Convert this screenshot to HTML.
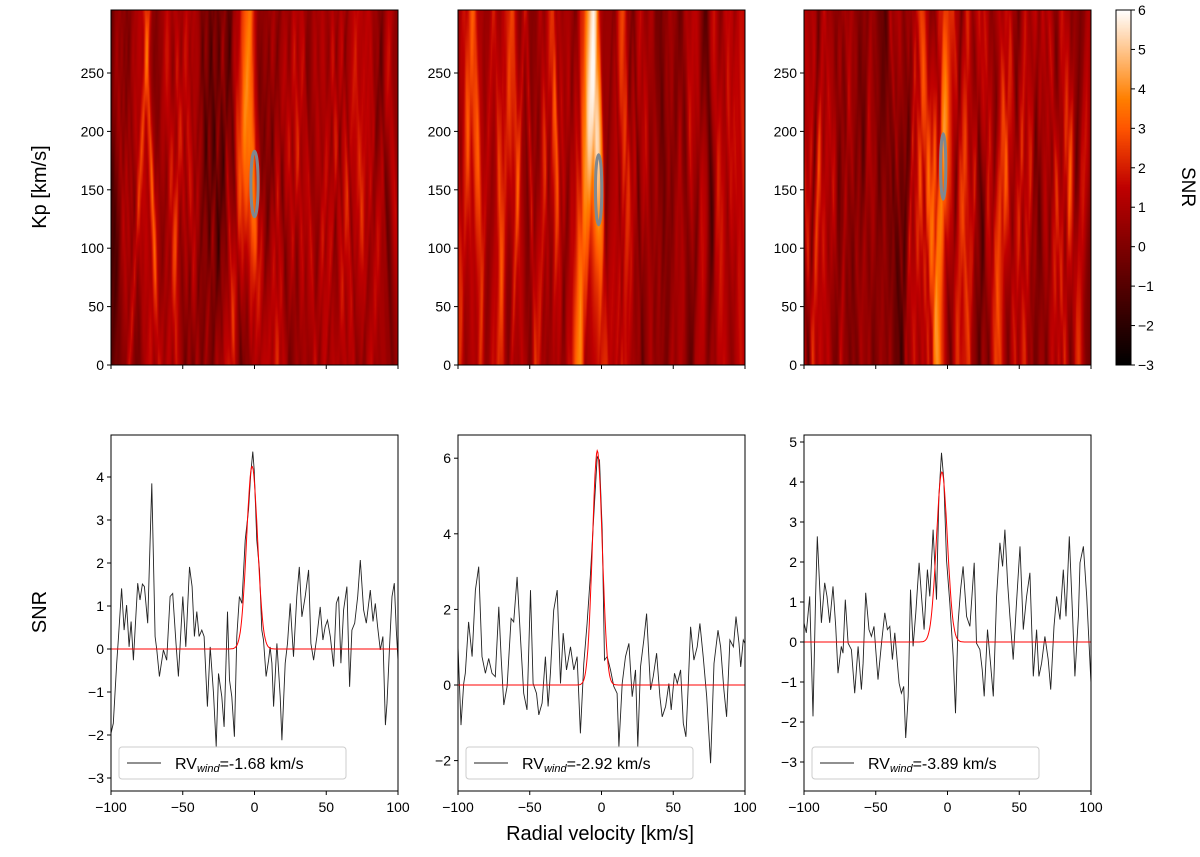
<!DOCTYPE html>
<html><head><meta charset="utf-8">
<style>
body{margin:0;background:#fff;width:1200px;height:857px;overflow:hidden;font-family:"Liberation Sans",sans-serif}
#root{position:relative;width:1200px;height:857px}
canvas{position:absolute}
svg{position:absolute;left:0;top:0}
</style></head>
<body>
<div id="root">
<canvas id="h0" width="287" height="355" style="left:111px;top:10px"></canvas>
<canvas id="h1" width="287" height="355" style="left:458px;top:10px"></canvas>
<canvas id="h2" width="287" height="355" style="left:804px;top:10px"></canvas>
<canvas id="cb" width="15" height="355" style="left:1116px;top:10px"></canvas>
<svg id="s" width="1200" height="857"></svg>
</div>
<script>
const rv1=[-100,-98.4,-96.0,-94.9,-92.6,-90.9,-89.1,-87.4,-86.0,-84.4,-81.4,-79.8,-78.1,-76.7,-74.4,-71.6,-69.3,-68.1,-66.3,-63.5,-61.2,-58.8,-57.0,-54.7,-53.0,-50.0,-47.9,-45.3,-43.5,-41.9,-40.2,-38.6,-36.7,-35.1,-32.8,-30.9,-28.6,-26.7,-25.1,-22.8,-21.2,-18.8,-17.4,-15.8,-14.0,-12.3,-10.5,-8.8,-6.5,-4.2,-2.6,-1.2,-0.2,1.6,3.5,5.1,6.3,8.1,9.8,10.9,12.1,13.3,15.6,17.9,19.1,21.4,23.0,24.9,27.2,29.5,31.2,33.0,35.3,37.7,39.3,41.2,43.5,45.8,47.7,49.3,50.9,52.8,55.1,57.0,58.6,60.2,62.1,64.4,66.3,67.9,69.8,71.9,73.7,76.0,77.9,80.7,82.6,84.2,85.8,87.7,89.5,91.2,92.3,94.2,95.8,97.4,98.8,100];
const snr1=[-1.96,-1.73,-0.33,0.21,1.41,0.44,1.02,0.05,0.64,-0.26,1.53,1.14,1.51,1.45,0.60,3.85,0.29,-0.02,-0.64,-0.02,-0.26,1.22,1.29,0.13,-0.64,1.22,0.05,1.91,1.45,0.29,0.87,0.29,0.44,0.29,-1.34,0.05,-1.03,-2.27,-0.57,-1.11,-1.81,0.87,-0.72,-1.11,-2.04,0.29,1.22,1.06,2.53,3.23,4.09,4.59,4.16,2.53,1.84,0.44,0.21,-0.64,-0.26,0.05,-0.33,-1.34,0.13,-1.11,-2.12,-0.33,0.13,1.06,-0.18,1.22,1.91,0.75,1.22,1.84,0.13,-0.26,0.29,0.98,0.21,0.52,0.67,0.29,-0.41,1.06,1.22,-0.33,0.91,1.45,-0.88,0.44,0.60,1.22,2.07,0.91,0.60,1.37,0.64,1.06,0.52,-0.02,0.29,-1.77,-1.26,0.13,1.22,1.53,0.44,-0.26];
const rv2=[-100,-97.9,-96.0,-94.9,-92.6,-90.2,-87.9,-85.6,-83.3,-80.9,-78.6,-76.3,-74.0,-71.6,-70.0,-68.1,-65.8,-63.0,-61.2,-58.8,-56.5,-54.2,-51.9,-49.5,-47.7,-45.3,-43.7,-41.4,-39.1,-37.2,-35.6,-33.3,-30.9,-28.6,-26.7,-24.4,-21.6,-19.3,-17.0,-14.7,-12.3,-10.0,-7.7,-5.3,-3.0,-1.4,0.5,2.1,4.0,6.3,8.6,10.9,12.1,14.4,16.7,19.1,21.4,23.7,25.3,27.2,29.5,31.4,34.2,36.0,38.4,40.7,42.3,44.7,47.0,48.6,50.9,52.8,55.1,57.0,58.8,60.2,62.1,64.4,66.7,68.6,70.9,73.3,76.0,78.4,81.2,83.0,85.3,87.2,89.5,91.9,93.7,95.8,97.0,98.8,100];
const snr2=[1.01,-1.06,0.04,0.31,1.67,0.75,2.51,3.13,0.75,0.31,0.70,0.31,0.22,2.07,0.75,-0.53,-0.04,1.76,1.67,2.86,1.28,-0.22,-0.66,2.51,0.04,-0.22,-0.79,-0.48,0.75,-0.57,0.31,1.98,2.51,0.04,1.37,0.40,1.01,0.40,0.75,-1.28,0.57,1.63,2.95,4.54,6.04,5.95,4.10,0.66,0.75,0.40,-0.04,-0.22,-1.63,0.04,0.75,1.10,-0.31,0.40,-1.63,0.48,1.19,1.89,-0.13,0.22,0.84,-0.31,-0.84,-0.57,0.04,-0.66,0.31,0.04,0.40,-1.01,-1.37,-0.22,1.54,0.66,1.01,1.63,0.75,-0.31,-2.07,0.57,1.45,1.01,-0.13,-0.84,1.19,1.01,1.81,1.10,0.48,1.19,1.10];
const rv3=[-100,-98.4,-96.0,-93.7,-91.9,-90.7,-87.9,-85.6,-84.0,-82.1,-79.8,-77.9,-76.3,-74.0,-72.8,-71.2,-69.3,-67.0,-64.7,-62.3,-60.0,-58.8,-57.0,-54.7,-53.0,-51.2,-48.4,-46.0,-43.7,-41.9,-40.2,-38.4,-36.7,-33.7,-32.1,-30.5,-29.1,-27.4,-25.8,-24.0,-22.1,-19.8,-18.1,-16.3,-14.0,-12.3,-10.0,-7.7,-6.0,-4.2,-2.6,-0.7,1.6,4.0,5.6,7.4,9.1,10.9,13.3,15.6,18.6,20.2,22.6,24.2,25.6,27.9,30.0,31.9,34.2,36.5,38.4,40.0,41.9,43.5,45.8,48.1,50.5,52.8,55.1,57.4,59.8,62.1,63.7,65.6,67.9,70.2,71.9,74.2,76.0,78.4,80.7,82.6,84.9,87.2,88.8,91.2,92.3,94.7,97.0,100];
const snr3=[0.48,0.23,1.14,-1.86,1.14,2.64,0.48,1.48,1.14,0.48,1.39,0.39,-0.78,-0.11,-0.28,1.06,-0.03,-0.19,-1.28,-0.11,-1.19,-0.53,1.23,0.31,0.14,0.39,-0.94,-0.03,0.73,0.31,0.39,-0.44,0.23,-1.03,-1.28,-1.11,-2.40,-1.36,1.31,-0.11,0.73,1.98,1.14,0.31,1.81,1.14,2.81,1.06,3.64,4.73,4.06,2.06,0.98,-0.36,-1.78,0.48,1.31,1.89,0.64,0.39,1.98,-0.03,-0.19,-0.69,-1.36,0.31,-0.53,-1.36,1.14,2.48,1.89,2.81,1.48,0.64,-0.44,0.98,2.39,0.31,1.14,1.73,-0.86,0.31,-0.86,-0.53,0.14,-0.44,-1.19,0.39,1.14,0.56,1.81,0.64,2.64,0.64,-0.86,0.64,1.98,2.39,1.14,-1.03];
const fitAmp=[4.25,6.2,4.25];
const fitCenter=[-1.68,-2.92,-3.89];
const fitSigma=[3.8,3.4,3.8];
const legendLabels=["-1.68","-2.92","-3.89"];
const xTicks=[-100,-50,0,50,100];
const kpTicks=[0,50,100,150,200,250];
const cbTicks=[-3,-2,-1,0,1,2,3,4,5,6];
const yTicks1=[-3,-2,-1,0,1,2,3,4];
const yTicks2=[-2,0,2,4,6];
const yTicks3=[-3,-2,-1,0,1,2,3,4,5];

const NS='http://www.w3.org/2000/svg';
const svg=document.getElementById('s');
function el(t,a,p){const e=document.createElementNS(NS,t);for(const k in a)e.setAttribute(k,a[k]);(p||svg).appendChild(e);return e;}
const lefts=[111,458,804], W=287;
const bot=[{y0:649,k:43,ticks:yTicks1},{y0:685,k:37.8,ticks:yTicks2},{y0:642,k:40,ticks:yTicks3}];
const series=[[rv1,snr1],[rv2,snr2],[rv3,snr3]];
function xS(i,v){return lefts[i]+(v+100)/200*W;}
function kpS(v){return 365-v*1.168;}
function interp(xs,ys,x){if(x<=xs[0])return ys[0];if(x>=xs[xs.length-1])return ys[ys.length-1];
 let j=1;while(xs[j]<x)j++;const t=(x-xs[j-1])/(xs[j]-xs[j-1]);return ys[j-1]*(1-t)+ys[j]*t;}
function cmap(v){let x=(v+3)/9;x=Math.max(0,Math.min(1,x));
 return [Math.min(1,1.5*x)*255,Math.max(0,Math.min(1,2*x-1))*255,Math.max(0,Math.min(1,4*x-3))*255];}

const slopes=[0.03,0.02,-0.025];
const kpPeak=[150,190,160];
for(let i=0;i<3;i++){
 const c=document.getElementById('h'+i).getContext('2d');const img=c.createImageData(287,355);
 const [xs,ys]=series[i];
 for(let py=0;py<355;py++){const kp=(355-py)/1.168;
  const wgt=0.45+0.55*Math.exp(-Math.pow((kp-kpPeak[i])/90,2));
  for(let px=0;px<287;px++){const rv=px/W*200-100;
   const a=interp(xs,ys,rv+slopes[i]*(kp-150));
   const b=interp(xs,ys,rv-slopes[i]*1.5*(kp-150)+9);
   const d=interp(xs,ys,rv+0.04*Math.sin(kp/40+i)*30-17);
   const v=0.75*a*wgt+0.45*b+0.25*d+0.35;
   const col=cmap(v);const o=(py*287+px)*4;
   img.data[o]=col[0];img.data[o+1]=col[1];img.data[o+2]=col[2];img.data[o+3]=255;}}
 c.putImageData(img,0,0);
}
{const c=document.getElementById('cb').getContext('2d');
 for(let py=0;py<355;py++){const v=6-py/355*9;const col=cmap(v);c.fillStyle=`rgb(${col[0]|0},${col[1]|0},${col[2]|0})`;c.fillRect(0,py,15,1);}}
el('rect',{x:1116,y:10,width:15,height:355,fill:'none',stroke:'#000','stroke-width':1,});
cbTicks.forEach(v=>{const y=365-(v+3)/9*355;
 el('line',{x1:1131,x2:1135,y1:y,y2:y,stroke:'#000'});
 const t=el('text',{x:1138,y:y+5,'font-size':14});t.textContent=(v<0?'\u2212':'')+Math.abs(v);
 });
{const t=el('text',{x:1182,y:187,'font-size':19,'text-anchor':'middle',transform:'rotate(90 1182 187)'});t.textContent='SNR';
 }

const contours=[[0,155,2.5,28],[-2,150,2.2,30],[-3,170,1.8,28]];
contours.forEach((c,i)=>{const e=el('ellipse',{cx:xS(i,c[0]),cy:kpS(c[1]),rx:c[2]/200*W,ry:c[3]*1.168,fill:'none',stroke:'#808890','stroke-width':3});
 });

for(let i=0;i<3;i++){
 const L=lefts[i];
 el('rect',{x:L,y:10,width:W,height:355,fill:'none',stroke:'#000',});
 kpTicks.forEach(v=>{const y=kpS(v);el('line',{x1:L-4,x2:L,y1:y,y2:y,stroke:'#000'});
  const t=el('text',{x:L-7,y:y+5,'font-size':14,'text-anchor':'end'});t.textContent=v;
  });
 xTicks.forEach(v=>{const x=xS(i,v);el('line',{x1:x,x2:x,y1:365,y2:369,stroke:'#000'});
  el('line',{x1:x,x2:x,y1:791,y2:795,stroke:'#000'});
  const t=el('text',{x:x,y:812,'font-size':14,'text-anchor':'middle'});t.textContent=(v<0?'\u2212':'')+Math.abs(v);
  });
 const B=bot[i];const yS=v=>B.y0-v*B.k;
 const g=el('g',{});
 const cp=el('clipPath',{id:'cp'+i});el('rect',{x:L,y:435,width:W,height:356},cp);
 B.ticks.forEach(v=>{const y=yS(v);el('line',{x1:L-4,x2:L,y1:y,y2:y,stroke:'#000'});
  const t=el('text',{x:L-7,y:y+5,'font-size':14,'text-anchor':'end'});t.textContent=(v<0?'\u2212':'')+Math.abs(v);
  });
 const [xs,ys]=series[i];
 let d='';xs.forEach((x,j)=>{d+=(j?'L':'M')+xS(i,x).toFixed(1)+','+yS(ys[j]).toFixed(1);});
 const p=el('path',{d:d,fill:'none',stroke:'#222','stroke-width':0.9,'clip-path':'url(#cp'+i+')'},g);
 
 let fd='';for(let k=0;k<=400;k++){const x=-100+k*0.5;const v=fitAmp[i]*Math.exp(-0.5*Math.pow((x-fitCenter[i])/fitSigma[i],2));
  fd+=(k?'L':'M')+xS(i,x).toFixed(1)+','+yS(v).toFixed(1);}
 const f=el('path',{d:fd,fill:'none',stroke:'#f00','stroke-width':1},g);
 
 el('rect',{x:L,y:435,width:W,height:356,fill:'none',stroke:'#000'},g);
 const lg=el('g',{});
 el('rect',{x:L+8,y:747,width:227,height:32,rx:3,fill:'#fff',stroke:'#ccc','fill-opacity':0.85},lg);
 el('line',{x1:L+16,x2:L+50,y1:763,y2:763,stroke:'#222'},lg);
 const t=el('text',{x:L+64,y:769,'font-size':16},lg);
 t.innerHTML='RV<tspan font-size="11" font-style="italic" dy="3">wind</tspan><tspan dy="-3">='+legendLabels[i]+' km/s</tspan>';
}
function lab(txt,x,y,rot,name){const t=el('text',{x:x,y:y,'font-size':20,'text-anchor':'middle'});if(rot)t.setAttribute('transform','rotate(-90 '+x+' '+y+')');t.textContent=txt;
 }
lab('Kp [km/s]',46,187,true,'kp-axis-title');
lab('SNR',46,612,true,'snr-axis-title');
lab('Radial velocity [km/s]',600,840,false,'x-axis-title');
</script>
</body></html>
